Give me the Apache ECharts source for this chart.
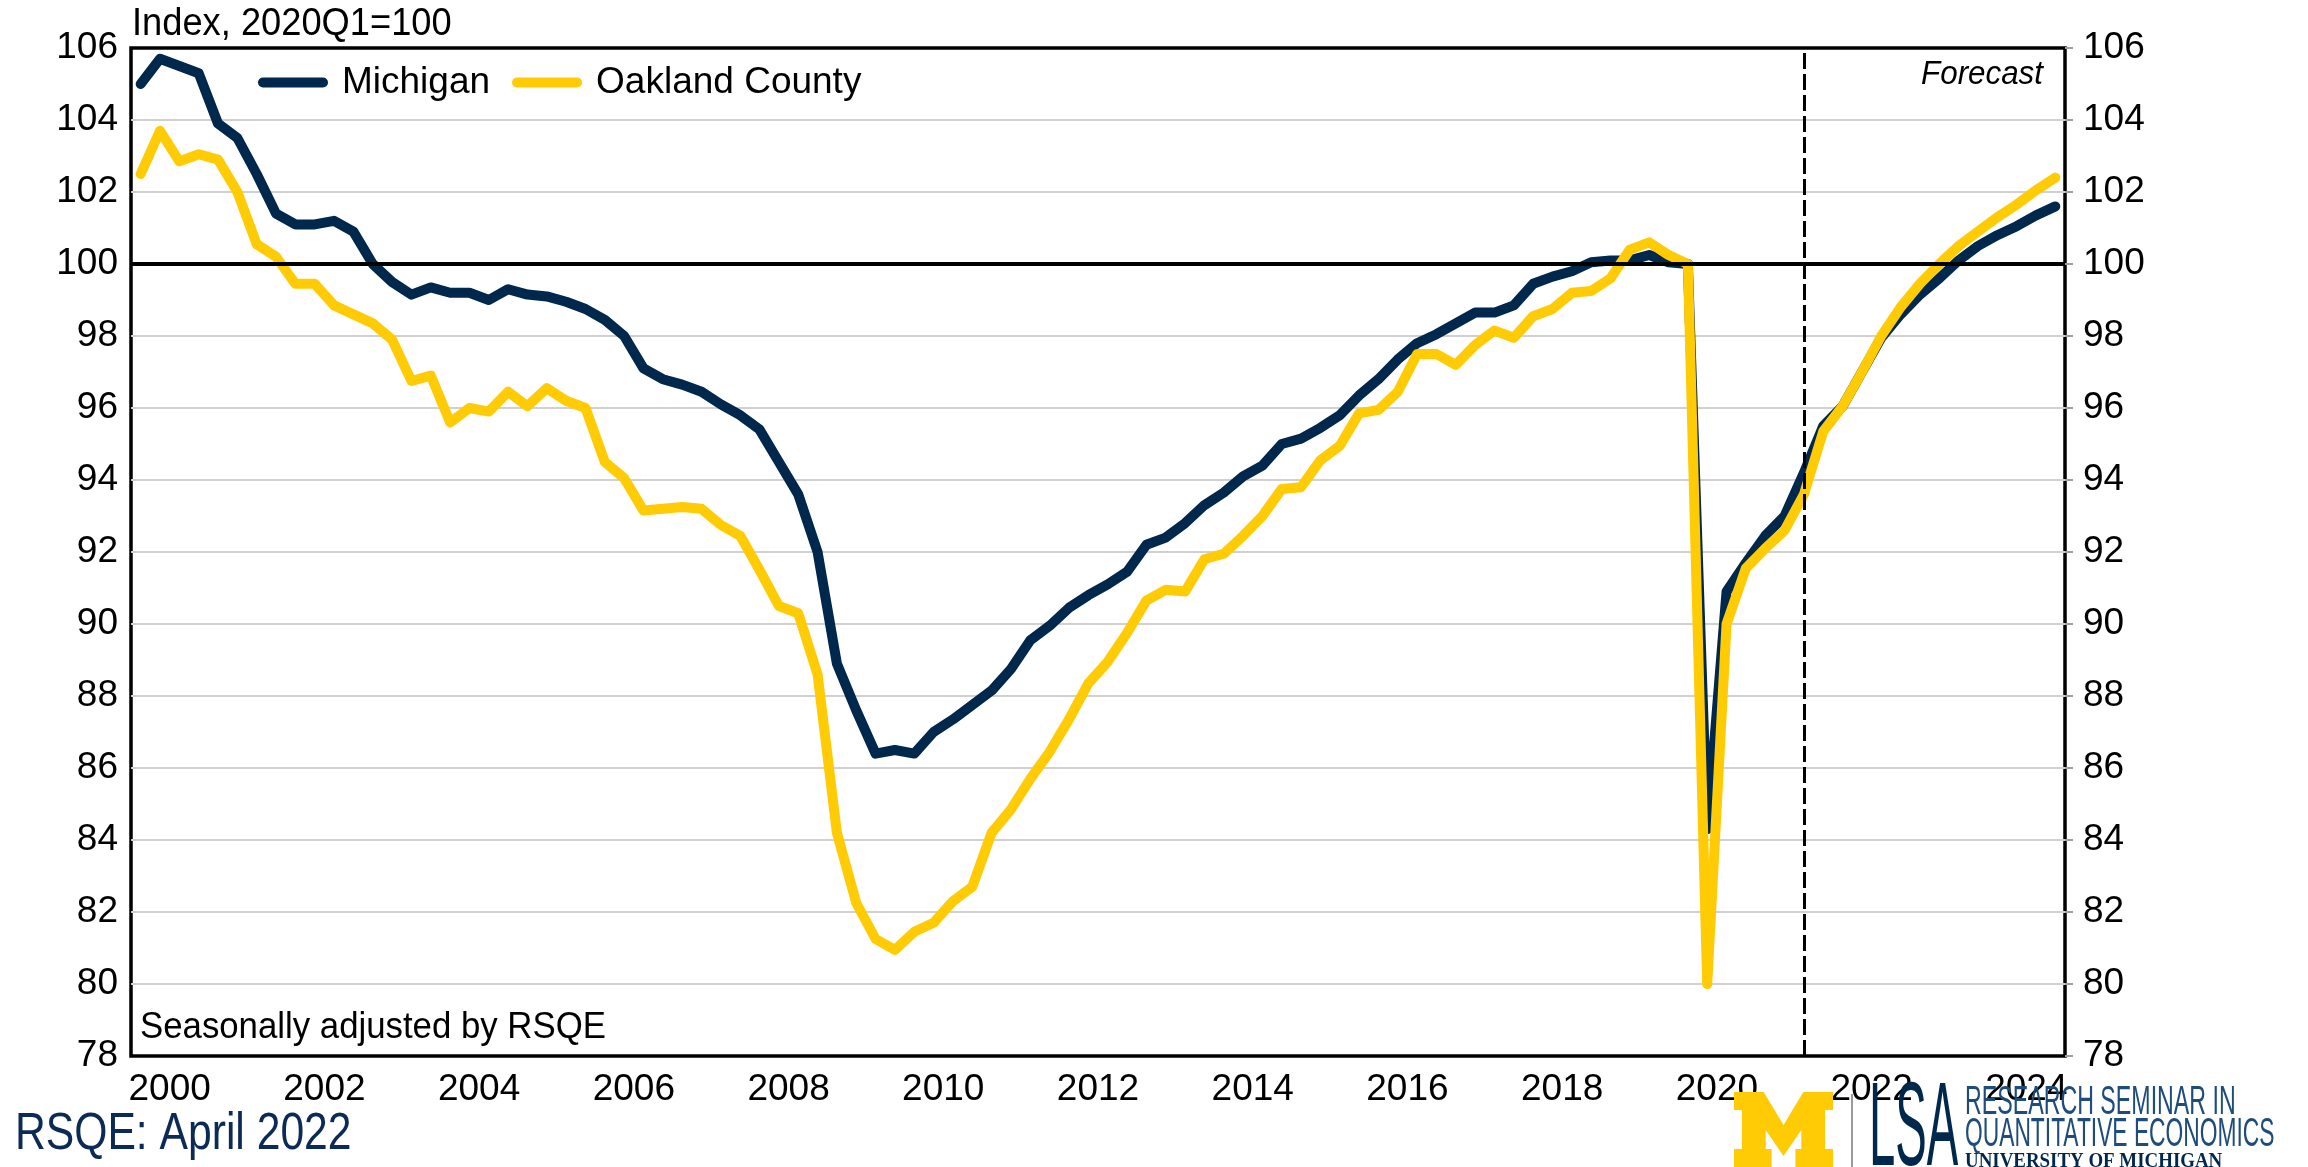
<!DOCTYPE html>
<html>
<head>
<meta charset="utf-8">
<title>Michigan vs Oakland County</title>
<script src="https://cdn.jsdelivr.net/npm/echarts@6.0.0/dist/echarts.min.js"></script>
<style>
  html, body { margin: 0; padding: 0; background: #fff; }
  #chart { width: 2308px; height: 1167px; }
</style>
</head>
<body>
<div id="chart"></div>
<script>
  // quarterly index, 2020Q1 = 100, 2000Q1 .. 2024Q4
  var years = [2000, 2001, 2002, 2003, 2004, 2005, 2006, 2007, 2008, 2009, 2010, 2011, 2012,
               2013, 2014, 2015, 2016, 2017, 2018, 2019, 2020, 2021, 2022, 2023, 2024];
  var qNames = ['Q1', 'Q2', 'Q3', 'Q4'];
  var yearTicks = [2000, 2002, 2004, 2006, 2008, 2010, 2012, 2014, 2016, 2018, 2020, 2022, 2024];
  var forecastStart = '2021Q3';

  var michigan = [
    105.0, 105.7, 105.5, 105.3, 103.9, 103.5, 102.5, 101.4,   // 2000-2001
    101.1, 101.1, 101.2, 100.9, 100.0, 99.5, 99.15, 99.35,     // 2002-2003
    99.2, 99.2, 99.0, 99.3, 99.15, 99.1, 98.95, 98.75,         // 2004-2005
    98.45, 98.0, 97.1, 96.8, 96.65, 96.45, 96.1, 95.8,         // 2006-2007
    95.4, 94.5, 93.6, 92.0, 88.9, 87.6, 86.4, 86.5,            // 2008-2009
    86.4, 87.0, 87.35, 87.75, 88.15, 88.75, 89.55, 89.95,      // 2010-2011
    90.45, 90.8, 91.1, 91.45, 92.2, 92.4, 92.8, 93.3,          // 2012-2013
    93.65, 94.1, 94.4, 95.0, 95.15, 95.45, 95.8, 96.35,        // 2014-2015
    96.8, 97.35, 97.8, 98.05, 98.35, 98.65, 98.65, 98.85,      // 2016-2017
    99.45, 99.65, 99.8, 100.05, 100.1, 100.1, 100.25, 100.05,  // 2018-2019
    100.0, 84.3, 90.9, 91.7, 92.45, 93.0, 94.2, 95.5,          // 2020-2021
    96.05, 97.0, 97.95, 98.6, 99.15, 99.6, 100.1, 100.5,       // 2022-2023
    100.8, 101.05, 101.35, 101.6                               // 2024
  ];
  var oakland = [
    102.5, 103.7, 102.85, 103.05, 102.9, 102.0, 100.55, 100.2,
    99.45, 99.45, 98.85, 98.6, 98.35, 97.9, 96.75, 96.9,
    95.6, 96.0, 95.9, 96.45, 96.05, 96.55, 96.2, 96.0,
    94.5, 94.05, 93.15, 93.2, 93.25, 93.2, 92.75, 92.45,
    91.5, 90.5, 90.3, 88.6, 84.2, 82.25, 81.25, 80.95,
    81.45, 81.7, 82.3, 82.7, 84.2, 84.85, 85.7, 86.45,
    87.35, 88.35, 88.95, 89.75, 90.65, 90.95, 90.9, 91.8,
    91.95, 92.45, 93.0, 93.75, 93.8, 94.55, 94.95, 95.85,
    95.95, 96.45, 97.5, 97.5, 97.2, 97.75, 98.15, 97.95,
    98.55, 98.75, 99.2, 99.25, 99.6, 100.4, 100.6, 100.25,
    100.0, 80.0, 90.0, 91.55, 92.1, 92.6, 93.6, 95.35,
    96.05, 97.0, 98.0, 98.8, 99.45, 100.0, 100.5, 100.9,
    101.3, 101.65, 102.05, 102.4
  ];

  var quarters = [];
  years.forEach(function (y) {
    qNames.forEach(function (q) { quarters.push(y + q); });
  });

  var NAVY = '#00274C';
  var MAIZE = '#FFCB05';
  var FONT = "'Liberation Sans', Arial, sans-serif";

  // block M outline on a 100 x 75 box
  var mShape = [[0,0],[30,0],[50,33],[70,0],[100,0],[100,18],[92,18],[92,57],[100,57],[100,75],
                [62,75],[62,57],[68,57],[68,38],[50,64],[32,38],[32,57],[38,57],[38,75],[0,75],
                [0,57],[8,57],[8,18],[0,18]];
  var mPoints = mShape.map(function (p) { return [1734 + p[0] * 0.99, 1092 + p[1]]; });

  var chart = echarts.init(document.getElementById('chart'));
  var option = {
    animation: false,
    backgroundColor: '#fff',
    grid: {
      left: 131, right: 243, top: 48, bottom: 111,
      show: true, borderColor: '#000', borderWidth: 3.5
    },
    legend: {
      data: ['Michigan', 'Oakland County'],
      left: 258, top: 64, padding: 0,
      itemWidth: 70, itemHeight: 10, itemGap: 22,
      icon: 'path://M5,0 L65,0 A5,5,0,0,1,65,10 L5,10 A5,5,0,0,1,5,0 Z',
      textStyle: { fontFamily: FONT, fontSize: 37, color: '#000', padding: [0, 0, 0, 9] }
    },
    xAxis: [{
      type: 'category',
      data: quarters,
      boundaryGap: true,
      axisLine: { show: false },
      axisTick: { show: false },
      axisLabel: { show: false },
      splitLine: { show: false }
    }, {
      type: 'value',
      min: 2000, max: 2025,
      position: 'bottom',
      axisLine: { show: false },
      axisTick: { show: false },
      splitLine: { show: false },
      axisLabel: {
        customValues: yearTicks.map(function (y) { return y + 0.5; }),
        formatter: function (v) { return String(Math.floor(v)); },
        fontFamily: FONT, fontSize: 37, color: '#000', margin: 15
      }
    }],
    yAxis: [{
      type: 'value', min: 78, max: 106, interval: 2, position: 'left',
      axisLine: { show: false },
      axisTick: { show: false },
      axisLabel: { fontFamily: FONT, fontSize: 37, color: '#000', margin: 13 },
      splitLine: { showMinLine: false, showMaxLine: false, lineStyle: { color: '#D0D0D0', width: 2 } }
    }, {
      type: 'value', min: 78, max: 106, interval: 2, position: 'right',
      axisLine: { show: false },
      axisTick: { show: true, length: 8, lineStyle: { color: '#A0A0A0', width: 2 } },
      axisLabel: { fontFamily: FONT, fontSize: 37, color: '#000', margin: 18 },
      splitLine: { show: false }
    }],
    series: [{
      name: 'ref',
      type: 'line',
      data: [],
      silent: true,
      z: 1,
      markLine: {
        silent: true,
        symbol: ['none', 'none'],
        label: { show: false },
        emphasis: { disabled: true },
        data: [
          { yAxis: 100, lineStyle: { color: '#000', width: 4, type: 'solid' } },
          { xAxis: forecastStart, lineStyle: { color: '#000', width: 3, type: [16, 5] } }
        ]
      }
    }, {
      name: 'Michigan',
      type: 'line',
      data: michigan,
      showSymbol: false,
      symbol: 'none',
      z: 3,
      itemStyle: { color: NAVY },
      lineStyle: { color: NAVY, width: 10, cap: 'round', join: 'round' },
      emphasis: { disabled: true }
    }, {
      name: 'Oakland County',
      type: 'line',
      data: oakland,
      showSymbol: false,
      symbol: 'none',
      z: 4,
      itemStyle: { color: MAIZE },
      lineStyle: { color: MAIZE, width: 10, cap: 'round', join: 'round' },
      emphasis: { disabled: true }
    }],
    graphic: [
      { type: 'text', x: 132, y: 24, scaleX: 0.93, style: { text: 'Index, 2020Q1=100', font: '39px ' + FONT, fill: '#000', textAlign: 'left', textVerticalAlign: 'middle' } },
      { type: 'text', x: 2043, y: 75, scaleX: 0.95, style: { text: 'Forecast', font: 'italic 33px ' + FONT, fill: '#000', textAlign: 'right', textVerticalAlign: 'middle' } },
      { type: 'text', x: 140, y: 1028, scaleX: 0.94, style: { text: 'Seasonally adjusted by RSQE', font: '37px ' + FONT, fill: '#000', textAlign: 'left', textVerticalAlign: 'middle' } },
      { type: 'text', x: 15, y: 1135, scaleX: 0.82, style: { text: 'RSQE: April 2022', font: '52px ' + FONT, fill: '#0B2A55', textAlign: 'left', textVerticalAlign: 'middle' } },
      { type: 'polygon', z: 100, shape: { points: mPoints }, style: { fill: MAIZE } },
      { type: 'line', z: 100, shape: { x1: 1852, y1: 1094, x2: 1852, y2: 1167 }, style: { stroke: '#9A9A9A', lineWidth: 2 } },
      { type: 'text', z: 100, x: 1869, y: 1132, scaleX: 0.40, style: { text: 'LSA', font: '118px ' + FONT, fill: NAVY, textAlign: 'left', textVerticalAlign: 'middle' } },
      { type: 'text', z: 100, x: 1965, y: 1103, scaleX: 0.58, style: { text: 'RESEARCH SEMINAR IN', font: '40px ' + FONT, fill: '#1E4D7B', textAlign: 'left', textVerticalAlign: 'middle' } },
      { type: 'text', z: 100, x: 1965, y: 1135, scaleX: 0.57, style: { text: 'QUANTITATIVE ECONOMICS', font: '40px ' + FONT, fill: '#1E4D7B', textAlign: 'left', textVerticalAlign: 'middle' } },
      { type: 'text', z: 100, x: 1965, y: 1162, scaleX: 0.9, style: { text: 'UNIVERSITY OF MICHIGAN', font: 'bold 21px "Liberation Serif", serif', fill: NAVY, textAlign: 'left', textVerticalAlign: 'middle' } }
    ]
  };
  chart.setOption(option);
</script>
</body>
</html>
